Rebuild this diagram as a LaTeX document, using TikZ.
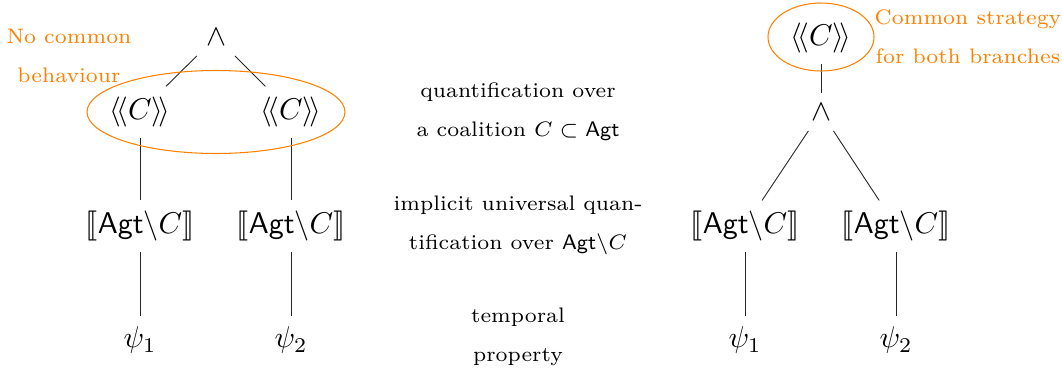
\documentclass[tikz,border=0pt]{standalone}
\usepackage{stmaryrd}
\begin{document}
\begin{tikzpicture}[x={(0.33333pt,0)},y={(0,-0.33333pt)},
  lbl/.style={font=\fontsize{7}{13}\selectfont, align=center},
  olbl/.style={lbl, text=orange},
  oell/.style={draw=orange, line width=0.35pt},
  edge/.style={draw=black!85, line width=0.3pt}]
\useasboundingbox (0,0) rectangle (1062,374);
% left tree
\node (and1) at (216,37) {$\wedge$};
\node (c1) at (140,112) {$\langle\!\langle C\rangle\!\rangle$};
\node (c2) at (291,112) {$\langle\!\langle C\rangle\!\rangle$};
\node (a1) at (140,226) {$\llbracket\mathsf{Agt}\backslash C\rrbracket$};
\node (a2) at (291,226) {$\llbracket\mathsf{Agt}\backslash C\rrbracket$};
\node (p1) at (140,340) {$\psi_1$};
\node (p2) at (291,340) {$\psi_2$};
\draw[edge] (and1) -- (c1);
\draw[edge] (and1) -- (c2);
\draw[edge] (c1) -- (a1);
\draw[edge] (c2) -- (a2);
\draw[edge] (a1) -- (p1);
\draw[edge] (a2) -- (p2);
\draw[oell] (216,112) ellipse [x radius=43pt, y radius=13.83pt];
\node[olbl] (nc) at (69,56) {No common\\behaviour};
% middle labels
\node[lbl] (m1) at (518,112) {quantification over\\a coalition $C\subset\mathsf{Agt}$};
\node[lbl] (m2) at (518,225) {implicit universal quan-\\tification over $\mathsf{Agt}\backslash C$};
\node[lbl] (m3) at (518,337) {temporal\\property};
% right tree
\node (rc) at (821,38) {$\langle\!\langle C\rangle\!\rangle$};
\node (rand) at (821,112) {$\wedge$};
\node (ra1) at (745,226) {$\llbracket\mathsf{Agt}\backslash C\rrbracket$};
\node (ra2) at (896,226) {$\llbracket\mathsf{Agt}\backslash C\rrbracket$};
\node (rp1) at (745,340) {$\psi_1$};
\node (rp2) at (896,340) {$\psi_2$};
\draw[edge] (rc) -- (rand);
\draw[edge] (rand) -- (ra1);
\draw[edge] (rand) -- (ra2);
\draw[edge] (ra1) -- (rp1);
\draw[edge] (ra2) -- (rp2);
\draw[oell] (821,37) ellipse [x radius=17.67pt, y radius=11.33pt];
\node[olbl] (cs) at (968,37) {Common strategy\\for both branches};
\end{tikzpicture}
\end{document}
